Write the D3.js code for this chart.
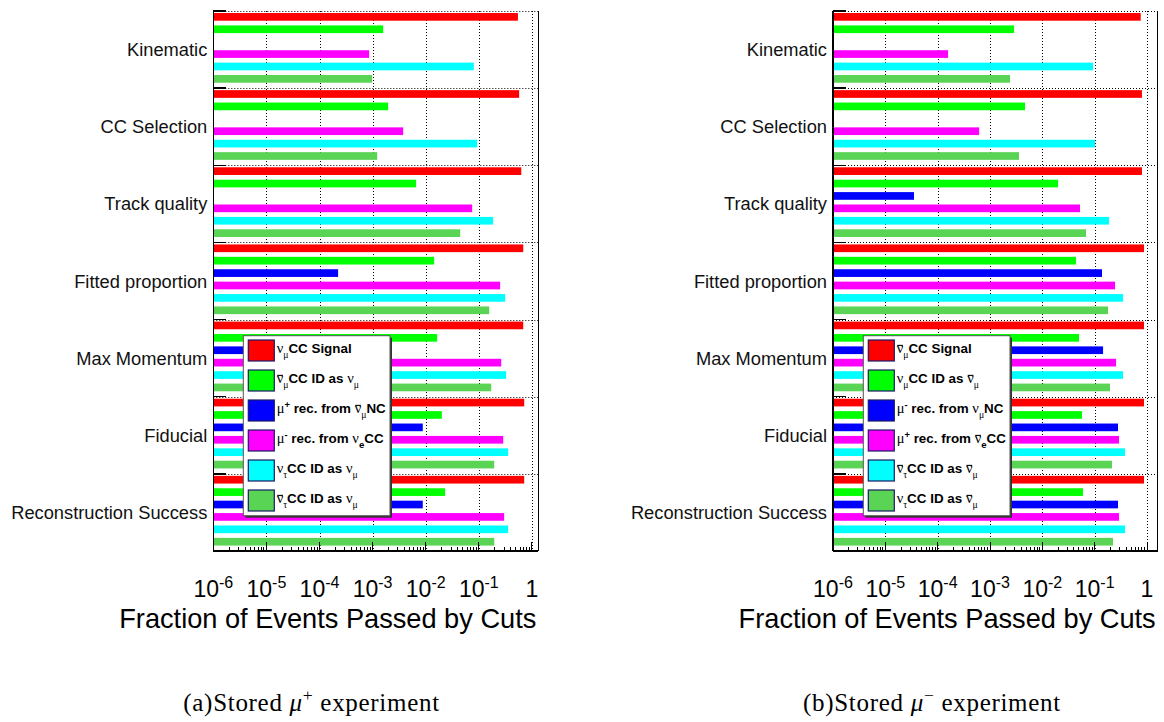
<!DOCTYPE html>
<html><head><meta charset="utf-8">
<script src="https://cdn.jsdelivr.net/npm/d3@7"></script>
<style>body{margin:0;background:#fff}svg{display:block}</style></head>
<body><svg id="c" width="1164" height="722"></svg>
<script>
// ---------------- data ----------------
const categories = ["Kinematic","CC Selection","Track quality","Fitted proportion","Max Momentum","Fiducial","Reconstruction Success"];
const seriesColors = ["#ff0000","#00ff00","#0000ff","#ff00ff","#00ffff","#59d454"];

// (a) stored mu+ experiment
const plusSignal    = [0.545, 0.575, 0.63, 0.686, 0.686, 0.716, 0.716];
const plusAntiNuMu  = [1.58e-3, 1.96e-3, 6.6e-3, 0.0144, 0.0164, 0.0201, 0.0232];
const plusMuNC      = [0, 0, 0, 2.24e-4, 2.5e-4, 8.8e-3, 8.8e-3];
const plusNuE       = [8.6e-4, 3.76e-3, 0.075, 0.252, 0.264, 0.288, 0.30];
const plusNuTau     = [0.0805, 0.093, 0.186, 0.313, 0.327, 0.357, 0.357];
const plusAntiNuTau = [9.8e-4, 1.22e-3, 0.0446, 0.157, 0.171, 0.195, 0.195];

// (b) stored mu- experiment
const minusSignal    = [0.757, 0.80, 0.80, 0.877, 0.877, 0.877, 0.877];
const minusNuMu      = [2.88e-3, 4.67e-3, 0.020, 0.044, 0.0502, 0.0573, 0.0598];
const minusMuNC      = [0, 0, 3.53e-5, 0.138, 0.1446, 0.279, 0.279];
const minusAntiNuE   = [1.58e-4, 6.2e-4, 0.0525, 0.245, 0.256, 0.292, 0.292];
const minusAntiNuTau = [0.093, 0.1016, 0.188, 0.348, 0.348, 0.38, 0.38];
const minusNuTau     = [2.41e-3, 3.58e-3, 0.0684, 0.18, 0.196, 0.214, 0.224];

const tickExponents = [-6, -5, -4, -3, -2, -1, 0];
const axisTitle = "Fraction of Events Passed by Cuts";

// legend labels: [text, kind]  kinds: b=bold text, g=greek, gbar=greek with bar, gsub=greek subscript, sub=subscript, sup=superscript
const legendPlus = [
  [["ν","g"],["μ","gsub"],["CC Signal","b"]],
  [["ν","gbar"],["μ","gsub"],["CC ID as ","b"],["ν","g"],["μ","gsub"]],
  [["μ","g"],["+","sup"],[" rec. from ","b"],["ν","gbar"],["μ","gsub"],["NC","b"]],
  [["μ","g"],["-","sup"],[" rec. from ","b"],["ν","g"],["e","sub"],["CC","b"]],
  [["ν","g"],["τ","gsub"],["CC ID as ","b"],["ν","g"],["μ","gsub"]],
  [["ν","gbar"],["τ","gsub"],["CC ID as ","b"],["ν","g"],["μ","gsub"]]
];
const legendMinus = [
  [["ν","gbar"],["μ","gsub"],["CC Signal","b"]],
  [["ν","g"],["μ","gsub"],["CC ID as ","b"],["ν","gbar"],["μ","gsub"]],
  [["μ","g"],["-","sup"],[" rec. from ","b"],["ν","g"],["μ","gsub"],["NC","b"]],
  [["μ","g"],["+","sup"],[" rec. from ","b"],["ν","gbar"],["e","sub"],["CC","b"]],
  [["ν","gbar"],["τ","gsub"],["CC ID as ","b"],["ν","gbar"],["μ","gsub"]],
  [["ν","g"],["τ","gsub"],["CC ID as ","b"],["ν","gbar"],["μ","gsub"]]
];
const captionPlus  = [["(a)Stored ","r"],["μ","i"],["+","sup"],[" experiment","r"]];
const captionMinus = [["(b)Stored ","r"],["μ","i"],["−","sup"],[" experiment","r"]];

// ---------------- layout ----------------
const panels = [
  {left:213.3, right:538.3, xMax:Math.pow(10,0.12),  series:[plusSignal,plusAntiNuMu,plusMuNC,plusNuE,plusNuTau,plusAntiNuTau], legend:legendPlus, caption:captionPlus, legX:243.3},
  {left:833,   right:1157.7, xMax:Math.pow(10,0.204), series:[minusSignal,minusNuMu,minusMuNC,minusAntiNuE,minusAntiNuTau,minusNuTau], legend:legendMinus, caption:captionMinus, legX:863.3}
];
const TOP = 11, BOTTOM = 551;
const svg = d3.select("#c");
const SANS = "'Liberation Sans', Arial, Helvetica, sans-serif";
const SERIF = "'Liberation Serif', 'Times New Roman', serif";

function richText(sel, parts, opt) {
  let shift = 0;
  const bars = [];
  parts.forEach(([t, kind]) => {
    let target = 0, fs = opt.size, fam = opt.family, fw = opt.weight, style = "normal";
    if (kind === "g" || kind === "gbar") { fam = SERIF; fw = "normal"; fs = opt.size * 1.08; }
    if (kind === "gsub") { fam = SERIF; fw = "normal"; fs = opt.size * 0.72; target = opt.size * 0.3; }
    if (kind === "sub") { fs = opt.size * 0.72; target = opt.size * 0.3; }
    if (kind === "sup") { fs = opt.size * 0.7; target = -opt.size * 0.42; if (opt.supFamily) fam = opt.supFamily; }
    if (kind === "i") { fam = SERIF; style = "italic"; }
    if (kind === "r") { fam = opt.family; }
    const ts = sel.append("tspan").text(t)
      .attr("dy", target - shift)
      .style("font-family", fam).style("font-size", fs + "px")
      .style("font-weight", fw).style("font-style", style);
    shift = target;
    if (kind === "gbar") bars.push({ts, fs});
  });
  return bars;
}

panels.forEach(cfg => {
  const g = svg.append("g");
  const x = d3.scaleLog().domain([1e-6, cfg.xMax]).range([cfg.left, cfg.right]);
  const y = d3.scaleBand().domain(categories).range([TOP, BOTTOM]);
  const yi = d3.scaleBand().domain(d3.range(6)).range([0, y.bandwidth()])
    .paddingInner(0.38).paddingOuter(0.3).align(0.27);

  // grid: vertical dotted at decades
  const decades = tickExponents.slice(1).map(e => Math.pow(10, e));
  g.append("g").selectAll("line").data(decades).join("line")
    .attr("x1", d => Math.round(x(d)) + 0.5).attr("x2", d => Math.round(x(d)) + 0.5)
    .attr("y1", TOP).attr("y2", BOTTOM)
    .attr("stroke", "#000").attr("stroke-width", 1).attr("stroke-dasharray", "1,2");
  // horizontal dotted separators
  g.append("g").selectAll("line").data(categories).join("line")
    .attr("x1", cfg.left).attr("x2", cfg.right)
    .attr("y1", d => Math.round(y(d)) + 0.5).attr("y2", d => Math.round(y(d)) + 0.5)
    .attr("stroke", "#000").attr("stroke-width", 1).attr("stroke-dasharray", "1,2");

  // bars
  cfg.series.forEach((vals, si) => {
    g.append("g").selectAll("rect").data(vals).join("rect")
      .attr("x", x(1e-6))
      .attr("y", (d, i) => y(categories[i]) + yi(si))
      .attr("height", yi.bandwidth())
      .attr("width", d => d > 1e-6 ? x(d) - x(1e-6) : 0)
      .attr("fill", seriesColors[si]);
  });

  // frame: left, right, bottom solid
  const fr = g.append("g").attr("stroke", "#000").attr("stroke-width", 1.3).attr("shape-rendering", "crispEdges");
  fr.append("line").attr("x1", cfg.left).attr("x2", cfg.left).attr("y1", TOP).attr("y2", BOTTOM);
  fr.append("line").attr("x1", cfg.right).attr("x2", cfg.right).attr("y1", TOP).attr("y2", BOTTOM);
  fr.append("line").attr("x1", cfg.left).attr("x2", cfg.right).attr("y1", BOTTOM).attr("y2", BOTTOM);

  // y ticks at band boundaries
  fr.selectAll(".yt").data(categories).join("line").attr("class", "yt")
    .attr("x1", cfg.left).attr("x2", cfg.left + 13)
    .attr("y1", d => y(d)).attr("y2", d => y(d));

  // x ticks (log minor)
  const minor = [];
  for (let e = -6; e <= 0; e++) for (let m = 1; m <= 9; m++) {
    const v = m * Math.pow(10, e);
    if (v <= cfg.xMax) minor.push({v, major: m === 1});
  }
  g.append("g").attr("stroke", "#000").attr("stroke-width", 1).attr("shape-rendering", "crispEdges")
    .selectAll("line").data(minor).join("line")
    .attr("x1", d => x(d.v)).attr("x2", d => x(d.v))
    .attr("y1", BOTTOM).attr("y2", d => BOTTOM - (d.major ? 9 : 4.5));

  // tick labels
  const tl = g.append("g").selectAll("text").data(tickExponents).join("text")
    .attr("x", e => x(Math.pow(10, e))).attr("y", 597)
    .attr("text-anchor", "middle").attr("fill", "#000")
    .style("font-family", SANS).style("font-size", "23px");
  tl.each(function(e) {
    const t = d3.select(this);
    if (e === 0) { t.text("1"); return; }
    t.append("tspan").text("10");
    t.append("tspan").text("-" + Math.abs(e)).attr("dy", -9).style("font-size", "16px");
  });

  // axis title
  g.append("text").attr("x", cfg.right - 2).attr("y", 628).attr("text-anchor", "end")
    .style("font-family", SANS).style("font-size", "27.2px").text(axisTitle);

  // category labels
  g.append("g").selectAll("text").data(categories).join("text")
    .attr("x", cfg.left - 6).attr("y", d => y(d) + y.bandwidth() / 2 + 6.5)
    .attr("text-anchor", "end")
    .style("font-family", SANS).style("font-size", "18.3px").attr("fill", "#111")
    .text(d => d);

  // legend
  const legW = 146.7, legH = 180, rowH = 30;
  const lg = g.append("g").attr("transform", `translate(${cfg.legX},335.7)`);
  lg.append("rect").attr("x", 2).attr("y", 2).attr("width", legW).attr("height", legH).attr("fill", "#333");
  lg.append("rect").attr("width", legW).attr("height", legH).attr("fill", "#fff")
    .attr("stroke", "#555").attr("stroke-width", 1);
  cfg.legend.forEach((parts, i) => {
    lg.append("rect").attr("x", 5).attr("y", 4.3 + i * rowH).attr("width", 26).attr("height", 21)
      .attr("fill", seriesColors[i]).attr("stroke", "#1a1a66").attr("stroke-width", 1.2);
    const t = lg.append("text").attr("x", 33.4).attr("y", 17.8 + i * rowH).attr("fill", "#000");
    const bars = richText(t, parts, {size: 13.4, family: SANS, weight: "bold"});
    bars.forEach(b => {
      const node = b.ts.node();
      const p0 = node.getStartPositionOfChar(0), p1 = node.getEndPositionOfChar(0);
      lg.append("line").attr("x1", p0.x + 0.5).attr("x2", p1.x - 0.3)
        .attr("y1", p0.y - b.fs * 0.56).attr("y2", p0.y - b.fs * 0.56)
        .attr("stroke", "#000").attr("stroke-width", 1.1);
    });
  });

  // caption
  const cap = g.append("text").attr("x", cfg.left - 30).attr("y", 711).attr("fill", "#000")
    .style("letter-spacing", "0.7px");
  richText(cap, cfg.caption, {size: 25, family: SERIF, weight: "normal", supFamily: SERIF});
});
</script></body></html>
